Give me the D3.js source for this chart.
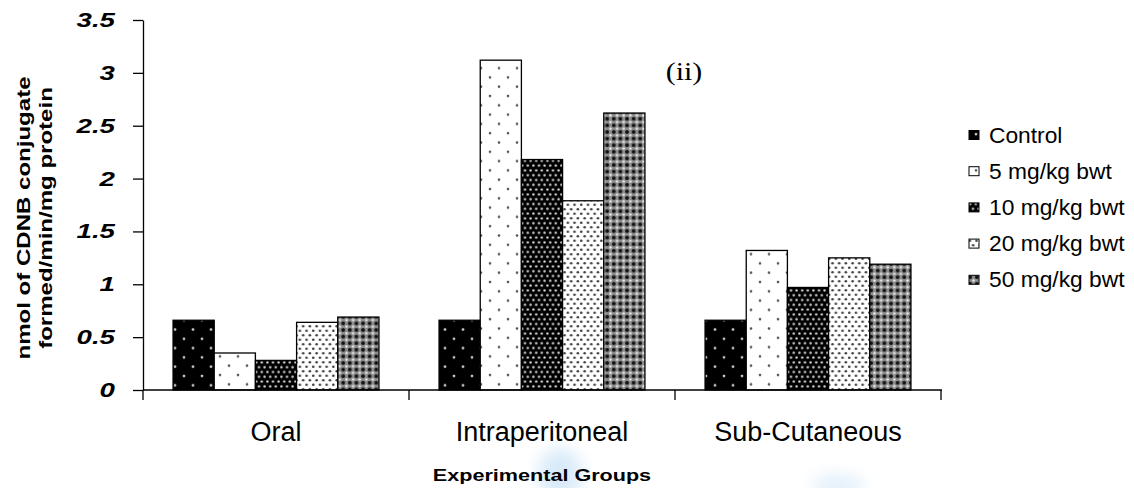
<!DOCTYPE html>
<html><head><meta charset="utf-8">
<script src="https://cdn.jsdelivr.net/npm/d3@7"></script>
<style>body{margin:0;background:#fff}svg{display:block}</style>
</head><body>
<svg id="c" width="1134" height="488"></svg>
<script>
const categories = ["Oral", "Intraperitoneal", "Sub-Cutaneous"];
const seriesNames = ["Control", "5 mg/kg bwt", "10 mg/kg bwt", "20 mg/kg bwt", "50 mg/kg bwt"];
const control = [0.66, 0.66, 0.66];
const mg5 = [0.35, 3.12, 1.32];
const mg10 = [0.28, 2.18, 0.97];
const mg20 = [0.64, 1.79, 1.25];
const mg50 = [0.69, 2.62, 1.19];
const yTicks = [0, 0.5, 1, 1.5, 2, 2.5, 3, 3.5];
const yTickLabels = ["0", "0.5", "1", "1.5", "2", "2.5", "3", "3.5"];

const series = [control, mg5, mg10, mg20, mg50];
const svg = d3.select("#c");
const defs = svg.append("defs");
const SANS = "Liberation Sans, Arial, sans-serif";

function pat(id, w, h, bg, dots, col, r) {
  const p = defs.append("pattern").attr("id", id).attr("patternUnits", "userSpaceOnUse")
    .attr("width", w).attr("height", h);
  p.append("rect").attr("width", w).attr("height", h).attr("fill", bg);
  dots.forEach(d => p.append("circle").attr("cx", d[0]).attr("cy", d[1]).attr("r", r).attr("fill", col));
  return p;
}
pat("p0", 18, 18.6, "#000", [[4, 4], [13, 13.3]], "#c8c8c8", 1.4);
pat("p1", 18, 18.6, "#fff", [[4, 3], [13, 12.3]], "#555", 1.3);
pat("p2", 5.6, 9.6, "#000", [[1.4, 2.4], [4.2, 7.2]], "#d8d8d8", 1.2);
pat("p3", 6.7, 9, "#fff", [[1.7, 2.2], [5.05, 6.7]], "#444", 1.3);
const p4 = defs.append("pattern").attr("id", "p4").attr("patternUnits", "userSpaceOnUse").attr("width", 6.6).attr("height", 6.6);
p4.append("rect").attr("width", 6.6).attr("height", 6.6).attr("fill", "#8c8c8c");
[[0,0],[6.6,0],[0,6.6],[6.6,6.6]].forEach(d => p4.append("circle").attr("cx", d[0]).attr("cy", d[1]).attr("r", 1.9).attr("fill", "#111"));
p4.append("circle").attr("cx", 3.3).attr("cy", 3.3).attr("r", 1.2).attr("fill", "#eee");
const fills = ["url(#p0)", "url(#p1)", "url(#p2)", "url(#p3)", "url(#p4)"];

const blur = defs.append("filter").attr("id", "bl").attr("x", "-50%").attr("y", "-50%").attr("width", "200%").attr("height", "200%");
blur.append("feGaussianBlur").attr("stdDeviation", 8);
svg.append("ellipse").attr("cx", 560).attr("cy", 474).attr("rx", 22).attr("ry", 26).attr("fill", "#cfe5f7").attr("filter", "url(#bl)").attr("opacity", 0.8);
svg.append("ellipse").attr("cx", 838).attr("cy", 486).attr("rx", 26).attr("ry", 12).attr("fill", "#d8eaf8").attr("filter", "url(#bl)").attr("opacity", 0.7);

const x0 = d3.scaleBand().domain(categories).range([143, 941]).paddingInner(0.226).paddingOuter(0.113);
const x1 = d3.scaleBand().domain(seriesNames).range([0, x0.bandwidth()]);
const y = d3.scaleLinear().domain([0, 3.5]).range([390, 20]);

const g = svg.append("g");
categories.forEach((c, ci) => {
  seriesNames.forEach((s, si) => {
    const v = series[si][ci];
    g.append("rect")
      .attr("x", x0(c) + x1(s)).attr("y", y(v))
      .attr("width", x1.bandwidth()).attr("height", y(0) - y(v))
      .attr("fill", fills[si]).attr("stroke", "#000").attr("stroke-width", 1.3);
  });
});

function stext(parent, x, yy, str, size, opts) {
  const sx = opts.sx || 1;
  return parent.append("text")
    .attr("transform", `translate(${x},${yy}) scale(${sx},1)`)
    .attr("text-anchor", opts.anchor || "start")
    .style("font-family", opts.family || SANS).style("font-size", size + "px")
    .style("font-weight", opts.weight || "normal").style("font-style", opts.style || "normal")
    .attr("fill", "#000").text(str);
}

// y axis
const yAxis = d3.axisLeft(y).tickValues(yTicks).tickFormat("").tickSize(10).tickSizeOuter(0);
const ya = svg.append("g").attr("transform", "translate(143,0)").call(yAxis);
ya.select(".domain").attr("stroke", "#000").attr("stroke-width", 1.3);
ya.selectAll(".tick line").attr("stroke", "#000").attr("stroke-width", 1.3);
yTicks.forEach((v, i) => stext(svg, 115, y(v) + 7, yTickLabels[i], 19.5, {anchor: "end", weight: "bold", style: "italic", sx: 1.42}));

// x axis
const xEdges = d3.scaleLinear().domain([0, 3]).range([143, 941]);
svg.append("line").attr("x1", 143).attr("x2", 942).attr("y1", 390).attr("y2", 390).attr("stroke", "#000").attr("stroke-width", 1.5);
[0, 1, 2, 3].forEach(i => svg.append("line").attr("x1", xEdges(i)).attr("x2", xEdges(i)).attr("y1", 390).attr("y2", 400).attr("stroke", "#000").attr("stroke-width", 1.3));
categories.forEach(c => stext(svg, x0(c) + x0.bandwidth() / 2, 441, c, 27, {anchor: "middle"}));

stext(svg, 542, 481, "Experimental Groups", 17, {anchor: "middle", weight: "bold", sx: 1.27});

// y title (stretched along its direction)
svg.append("text").attr("transform", "translate(30,218) rotate(-90) scale(1.3,1)").attr("text-anchor", "middle")
  .style("font-family", SANS).style("font-size", "18.5px").style("font-weight", "bold").text("nmol of CDNB conjugate");
svg.append("text").attr("transform", "translate(52,218) rotate(-90) scale(1.3,1)").attr("text-anchor", "middle")
  .style("font-family", SANS).style("font-size", "18.5px").style("font-weight", "bold").text("formed/min/mg protein");

stext(svg, 684, 80, "(ii)", 25, {anchor: "middle", family: "Liberation Serif, Times New Roman, serif", sx: 1.2});

// legend
const lg = svg.append("g");
seriesNames.forEach((s, i) => {
  const yy = 135 + i * 36.2;
  lg.append("rect").attr("x", 969).attr("y", yy - 4.5).attr("width", 10).attr("height", 9)
    .attr("fill", fills[i]).attr("stroke", "#000").attr("stroke-width", 1);
  stext(lg, 989, yy + 7.5, s, 21.5, {sx: 1.06});
});
</script>
</body></html>
